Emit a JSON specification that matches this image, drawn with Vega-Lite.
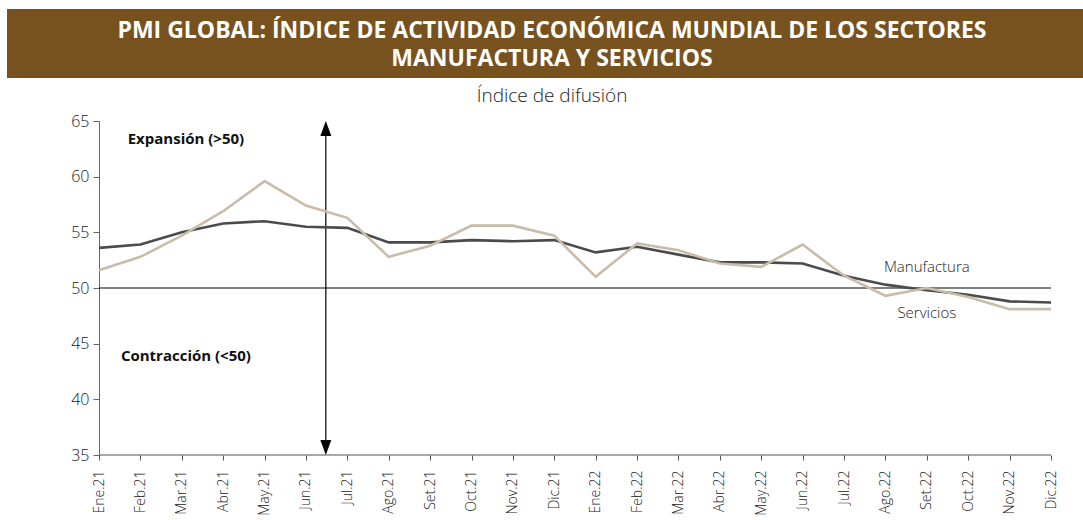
{
  "$schema": "https://vega.github.io/schema/vega-lite/v6.json",
  "padding": {"left": 7, "top": 9, "right": 0, "bottom": 0},
  "background": "white",
  "spacing": 7,
  "config": {"view": {"stroke": null}, "font": "Open Sans"},
  "vconcat": [
    {
      "width": 1090,
      "height": 69,
      "view": {"fill": "#77521f", "stroke": null},
      "title": {"text": "Índice de difusión", "orient": "bottom", "frame": "group", "anchor": "middle", "fontSize": 19, "fontWeight": 300, "baseline": "top", "offset": 9, "color": "#222", "font": "Open Sans"},
      "data": {"values": [{"t": "PMI GLOBAL: ÍNDICE DE ACTIVIDAD ECONÓMICA MUNDIAL DE LOS SECTORES\nMANUFACTURA Y SERVICIOS"}]},
      "mark": {"type": "text", "lineBreak": "\n", "fontSize": 23, "fontWeight": "bold", "color": "white", "lineHeight": 28, "align": "center", "baseline": "middle", "dy": -13, "font": "Open Sans"},
      "encoding": {"text": {"field": "t"}}
    },
    {
      "width": 1076,
      "height": 334,
      "encoding": {
        "x": {
          "field": "i", "type": "quantitative",
          "scale": {"domain": [0, 23], "range": [92, 1044], "nice": false, "zero": false},
          "axis": {
            "title": null, "grid": false, "domain": false,
            "values": [0,1,2,3,4,5,6,7,8,9,10,11,12,13,14,15,16,17,18,19,20,21,22,23],
            "labelExpr": "['Ene.21','Feb.21','Mar.21','Abr.21','May.21','Jun.21','Jul.21','Ago.21','Set.21','Oct.21','Nov.21','Dic.21','Ene.22','Feb.22','Mar.22','Abr.22','May.22','Jun.22','Jul.22','Ago.22','Set.22','Oct.22','Nov.22','Dic.22'][datum.value]",
            "labelAngle": -90, "labelFontSize": 14, "labelFontWeight": 300, "labelColor": "#222",
            "tickSize": 5, "labelPadding": 10, "tickColor": "#555", "labelFlush": false, "labelOverlap": false, "labelBound": false
          }
        },
        "y": {
          "field": "v", "type": "quantitative",
          "scale": {"domain": [35, 65], "nice": false, "zero": false},
          "axis": {
            "title": null, "grid": false, "values": [35,40,45,50,55,60,65], "offset": -92,
            "labelFontSize": 16, "labelFontWeight": 300, "labelColor": "#222",
            "tickSize": 6, "labelPadding": 4, "domainColor": "#666", "tickColor": "#666"
          }
        }
      },
      "layer": [
        {
          "data": {"values": [{"i": 0, "i2": 23, "v": 35}]},
          "mark": {"type": "rule", "color": "#555", "strokeWidth": 1},
          "encoding": {"x2": {"field": "i2"}}
        },
        {
          "data": {"values": [{"i": 0, "i2": 23, "v": 50}]},
          "mark": {"type": "rule", "color": "#000", "strokeWidth": 1},
          "encoding": {"x2": {"field": "i2"}}
        },
        {
          "data": {"values": [{"i": 5.48, "v": 35.5, "v2": 64.5}]},
          "mark": {"type": "rule", "color": "#000", "strokeWidth": 1.2},
          "encoding": {"y2": {"field": "v2"}}
        },
        {
          "data": {"values": [{"i": 5.48, "v": 64.33}]},
          "mark": {"type": "point", "shape": "M0,-1L-0.73,1L0.73,1Z", "size": 225, "filled": true, "color": "#000", "opacity": 1}
        },
        {
          "data": {"values": [{"i": 5.48, "v": 35.67}]},
          "mark": {"type": "point", "shape": "M0,1L-0.73,-1L0.73,-1Z", "size": 225, "filled": true, "color": "#000", "opacity": 1}
        },
        {
          "data": {"values": [
            {"i":0,"serie":"Manufactura","v":53.6},{"i":1,"serie":"Manufactura","v":53.9},{"i":2,"serie":"Manufactura","v":55.0},{"i":3,"serie":"Manufactura","v":55.8},
            {"i":4,"serie":"Manufactura","v":56.0},{"i":5,"serie":"Manufactura","v":55.5},{"i":6,"serie":"Manufactura","v":55.4},{"i":7,"serie":"Manufactura","v":54.1},
            {"i":8,"serie":"Manufactura","v":54.1},{"i":9,"serie":"Manufactura","v":54.3},{"i":10,"serie":"Manufactura","v":54.2},{"i":11,"serie":"Manufactura","v":54.3},
            {"i":12,"serie":"Manufactura","v":53.2},{"i":13,"serie":"Manufactura","v":53.7},{"i":14,"serie":"Manufactura","v":53.0},{"i":15,"serie":"Manufactura","v":52.3},
            {"i":16,"serie":"Manufactura","v":52.3},{"i":17,"serie":"Manufactura","v":52.2},{"i":18,"serie":"Manufactura","v":51.1},{"i":19,"serie":"Manufactura","v":50.3},
            {"i":20,"serie":"Manufactura","v":49.8},{"i":21,"serie":"Manufactura","v":49.4},{"i":22,"serie":"Manufactura","v":48.8},{"i":23,"serie":"Manufactura","v":48.7},
            {"i":0,"serie":"Servicios","v":51.6},{"i":1,"serie":"Servicios","v":52.8},{"i":2,"serie":"Servicios","v":54.7},{"i":3,"serie":"Servicios","v":56.9},
            {"i":4,"serie":"Servicios","v":59.6},{"i":5,"serie":"Servicios","v":57.4},{"i":6,"serie":"Servicios","v":56.3},{"i":7,"serie":"Servicios","v":52.8},
            {"i":8,"serie":"Servicios","v":53.8},{"i":9,"serie":"Servicios","v":55.6},{"i":10,"serie":"Servicios","v":55.6},{"i":11,"serie":"Servicios","v":54.7},
            {"i":12,"serie":"Servicios","v":51.0},{"i":13,"serie":"Servicios","v":54.0},{"i":14,"serie":"Servicios","v":53.4},{"i":15,"serie":"Servicios","v":52.2},
            {"i":16,"serie":"Servicios","v":51.9},{"i":17,"serie":"Servicios","v":53.9},{"i":18,"serie":"Servicios","v":51.1},{"i":19,"serie":"Servicios","v":49.3},
            {"i":20,"serie":"Servicios","v":50.0},{"i":21,"serie":"Servicios","v":49.2},{"i":22,"serie":"Servicios","v":48.1},{"i":23,"serie":"Servicios","v":48.1}
          ]},
          "mark": {"type": "line", "strokeWidth": 2.6, "interpolate": "linear"},
          "encoding": {
            "color": {"field": "serie", "type": "nominal", "scale": {"domain": ["Manufactura", "Servicios"], "range": ["#4b4b4e", "#c9bca8"]}, "legend": null},
            "order": {"field": "i", "type": "quantitative"}
          }
        },
        {
          "data": {"values": [{"i": 2.1, "v": 63.36, "t": "Expansión (>50)"}, {"i": 2.1, "v": 43.88, "t": "Contracción (<50)"}]},
          "mark": {"type": "text", "fontSize": 15, "fontWeight": "bold", "color": "#111", "align": "center", "baseline": "middle", "font": "Open Sans"},
          "encoding": {"text": {"field": "t"}}
        },
        {
          "data": {"values": [{"i": 20, "v": 51.87, "t": "Manufactura"}, {"i": 20, "v": 47.74, "t": "Servicios"}]},
          "mark": {"type": "text", "fontSize": 15, "fontWeight": 300, "color": "#222", "align": "center", "baseline": "middle", "font": "Open Sans"},
          "encoding": {"text": {"field": "t"}}
        }
      ]
    }
  ]
}
